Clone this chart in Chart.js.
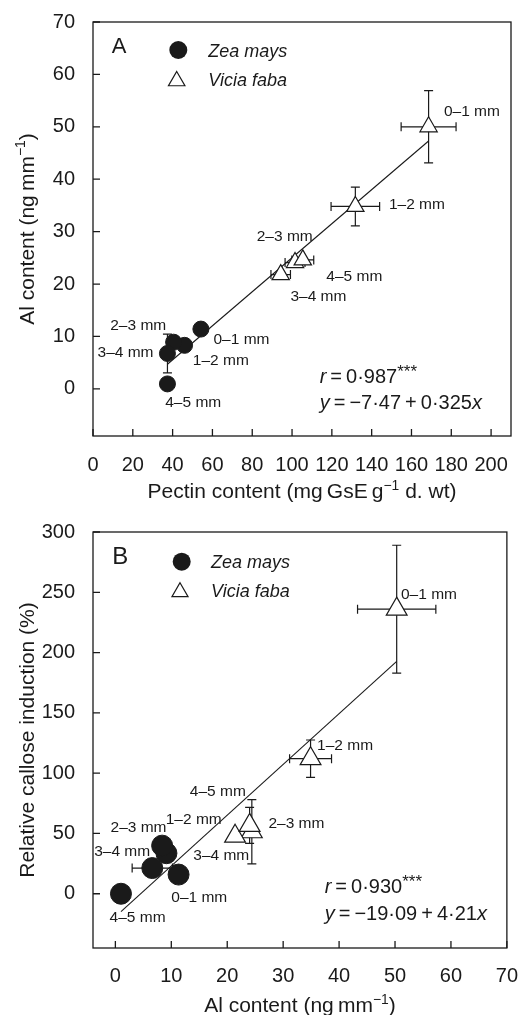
<!DOCTYPE html>
<html><head><meta charset="utf-8">
<script src="https://cdn.jsdelivr.net/npm/chart.js@4.4.1/dist/chart.umd.min.js"></script>
<style>
html,body{margin:0;padding:0;background:#fff;}
#wrap{position:relative;width:526px;height:1015px;overflow:hidden;background:#fff;}
canvas{position:absolute;left:0;}
#cA{top:0;} #cB{top:510px;}
</style></head><body>
<div id="wrap"><canvas id="cA" width="526" height="510"></canvas><canvas id="cB" width="526" height="505"></canvas></div>
<script>
// ---------------- DATA ----------------
const zoneLabels = ['0–1 mm', '1–2 mm', '2–3 mm', '3–4 mm', '4–5 mm'];
const seriesNames = ['Zea mays', 'Vicia faba'];

// Panel A : pectin content (x) vs Al content (y)
const zeaPectinA      = [54.2, 46.0, 40.5, 37.4, 37.4];
const zeaAlA          = [11.4, 8.3, 8.9, 6.75, 0.94];
const zeaPectinErrA   = [0, 0, 0, 0, 0];
const zeaAlErrA       = [0, 0, 0, 3.7, 0];
const viciaPectinA    = [168.6, 131.8, 101.5, 94.3, 105.4];
const viciaAlA        = [50.0, 34.8, 24.1, 21.8, 24.6];
const viciaPectinErrA = [13.8, 12.2, 5.0, 4.9, 5.5];
const viciaAlErrA     = [6.9, 3.7, 0, 0, 0];
const fitXA = [37.4, 168.6];
const fitYA = [4.69, 47.3];
const xTicksA = [0, 20, 40, 60, 80, 100, 120, 140, 160, 180, 200];
const yTicksA = [0, 10, 20, 30, 40, 50, 60, 70];
const statsA = ['0·987', '−7·47', '0·325'];

// Panel B : Al content (x) vs relative callose induction (y)
const zeaAlB           = [11.3, 9.13, 8.36, 6.6, 1.0];
const zeaCalloseB      = [15.9, 33.6, 39.9, 21.3, 0];
const zeaAlErrB        = [0, 0, 0, 3.6, 0];
const zeaCalloseErrB   = [0, 0, 0, 0, 0];
const viciaAlB         = [50.3, 34.9, 24.4, 21.4, 24.0];
const viciaCalloseB    = [236, 112, 51.4, 47.7, 56.7];
const viciaAlErrB      = [7.0, 3.75, 0, 0, 0];
const viciaCalloseErrB = [53, 15.5, 26.6, 0, 15];
const fitXB = [1.0, 50.3];
const fitYB = [-14.9, 192.7];
const xTicksB = [0, 10, 20, 30, 40, 50, 60, 70];
const yTicksB = [0, 50, 100, 150, 200, 250, 300];
const statsB = ['0·930', '−19·09', '4·21'];

// ---------------- STYLE / LAYOUT ----------------
const FAM = '"Liberation Sans", Arial, Helvetica, sans-serif';
const INK = '#1a1a1a';

function pts(xs, ys) { return xs.map((x, i) => ({ x: x, y: ys[i] })); }

function drawRich(ctx, segs, x, y, size, align) {
  const fontOf = s => (s.i ? 'italic ' : '') + (s.sup ? size * (s.scale || 0.66) : size) + 'px ' + FAM;
  let total = 0;
  const ws = segs.map(s => { ctx.font = fontOf(s); const w = ctx.measureText(s.t).width; total += w; return w; });
  let cx = align === 'center' ? x - total / 2 : (align === 'right' ? x - total : x);
  ctx.textAlign = 'left'; ctx.textBaseline = 'alphabetic';
  segs.forEach((s, k) => { ctx.font = fontOf(s); ctx.fillText(s.t, cx, s.sup ? y - size * (s.raise || 0.4) : y); cx += ws[k]; });
}

function triPath(ctx, x, y, r) {
  ctx.beginPath();
  for (let k = 0; k < 3; k++) {
    const a = k * 2 * Math.PI / 3;
    const px = x + Math.sin(a) * r, py = y - Math.cos(a) * r;
    if (k === 0) ctx.moveTo(px, py); else ctx.lineTo(px, py);
  }
  ctx.closePath();
}

function makePanel(id, P) {
  const canvas = document.getElementById(id);
  const W = canvas.width, H = canvas.height;
  const decor = {
    id: 'decor' + id,
    beforeDatasetsDraw(chart) {
      const ctx = chart.ctx, xs = chart.scales.x, ys = chart.scales.y;
      ctx.save();
      ctx.strokeStyle = INK; ctx.lineWidth = 1.2;
      const cap = 4.5;
      P.errors.forEach(e => {
        e.x.forEach((xv, i) => {
          const px = xs.getPixelForValue(xv), py = ys.getPixelForValue(e.y[i]);
          if (e.ex[i] > 0) {
            const a = xs.getPixelForValue(xv - e.ex[i]), b = xs.getPixelForValue(xv + e.ex[i]);
            ctx.beginPath(); ctx.moveTo(a, py); ctx.lineTo(b, py);
            ctx.moveTo(a, py - cap); ctx.lineTo(a, py + cap);
            ctx.moveTo(b, py - cap); ctx.lineTo(b, py + cap); ctx.stroke();
          }
          if (e.ey[i] > 0) {
            const a = ys.getPixelForValue(e.y[i] - e.ey[i]), b = ys.getPixelForValue(e.y[i] + e.ey[i]);
            ctx.beginPath(); ctx.moveTo(px, a); ctx.lineTo(px, b);
            ctx.moveTo(px - cap, a); ctx.lineTo(px + cap, a);
            ctx.moveTo(px - cap, b); ctx.lineTo(px + cap, b); ctx.stroke();
          }
        });
      });
      ctx.restore();
    },
    afterDatasetsDraw(chart) {
      const ctx = chart.ctx, xs = chart.scales.x, ys = chart.scales.y;
      ctx.save();
      ctx.fillStyle = INK;
      ctx.font = P.labelSize + 'px ' + FAM;
      ctx.textAlign = 'left'; ctx.textBaseline = 'middle';
      P.labels.forEach(L => {
        L.x.forEach((xv, i) => {
          const px = xs.getPixelForValue(xv), py = ys.getPixelForValue(L.y[i]);
          ctx.fillText(zoneLabels[i], px + L.off[i][0], py + L.off[i][1]);
        });
      });
      ctx.restore();
    },
    afterDraw(chart) {
      const ctx = chart.ctx, xs = chart.scales.x, ys = chart.scales.y, ca = chart.chartArea;
      ctx.save();
      ctx.strokeStyle = INK; ctx.lineWidth = 1.3;
      ctx.strokeRect(ca.left, ca.top, ca.right - ca.left, ca.bottom - ca.top);
      ctx.beginPath();
      const tl = 7;
      xs.ticks.forEach(t => { const p = xs.getPixelForValue(t.value); ctx.moveTo(p, ca.bottom); ctx.lineTo(p, ca.bottom - tl); });
      ys.ticks.forEach(t => { const p = ys.getPixelForValue(t.value); ctx.moveTo(ca.left, p); ctx.lineTo(ca.left + tl, p); });
      ctx.stroke();
      ctx.fillStyle = INK;
      // panel letter
      ctx.font = P.letterSize + 'px ' + FAM; ctx.textAlign = 'left'; ctx.textBaseline = 'alphabetic';
      ctx.fillText(P.letter, P.letterPos[0], P.letterPos[1]);
      // legend
      const lg = P.legend;
      ctx.beginPath(); ctx.arc(lg.circ[0], lg.circ[1], lg.circR, 0, Math.PI * 2); ctx.fillStyle = INK; ctx.fill();
      triPath(ctx, lg.tri[0], lg.tri[1], lg.triR); ctx.fillStyle = '#fff'; ctx.fill(); ctx.lineWidth = 1.2; ctx.stroke();
      ctx.fillStyle = INK;
      ctx.font = 'italic ' + lg.size + 'px ' + FAM;
      ctx.fillText(seriesNames[0], lg.textX, lg.base[0]);
      ctx.fillText(seriesNames[1], lg.textX, lg.base[1]);
      // stats
      const th = '\u2009';
      drawRich(ctx, [{ t: 'r', i: 1 }, { t: th + '=' + th + P.stats[0] }, { t: '***', sup: 1, scale: 0.85, raise: 0.3 }], P.statsPos[0], P.statsPos[1], P.statsSize, 'left');
      drawRich(ctx, [{ t: 'y', i: 1 }, { t: th + '=' + th + P.stats[1] + th + '+' + th + P.stats[2] }, { t: 'x', i: 1 }], P.statsPos[0], P.statsPos[2], P.statsSize, 'left');
      // axis titles
      drawRich(ctx, P.xTitle, (ca.left + ca.right) / 2 + P.xTitleDx, P.xTitleBase, P.titleSize, 'center');
      ctx.save();
      ctx.translate(P.yTitleBase, (ca.top + ca.bottom) / 2);
      ctx.rotate(-Math.PI / 2);
      drawRich(ctx, P.yTitle, 0, 0, P.titleSize, 'center');
      ctx.restore();
      ctx.restore();
    }
  };

  const tickFont = { family: FAM, size: P.tickSize };
  return new Chart(canvas, {
    type: 'scatter',
    data: {
      datasets: [
        { label: seriesNames[1], data: pts(P.vx, P.vy), pointStyle: 'triangle', pointRadius: P.triR, pointHoverRadius: P.triR,
          backgroundColor: '#fff', borderColor: INK, borderWidth: 1.2, order: 1 },
        { label: seriesNames[0], data: pts(P.zx, P.zy), pointStyle: 'circle', pointRadius: P.circR, pointHoverRadius: P.circR,
          backgroundColor: INK, borderColor: INK, borderWidth: 1, order: 2 },
        { type: 'line', label: 'fit', data: pts(P.fx, P.fy), showLine: true, pointRadius: 0, borderColor: INK,
          borderWidth: 1.1, fill: false, order: 3 }
      ]
    },
    options: {
      responsive: false, animation: false, devicePixelRatio: 1, events: [],
      layout: { padding: { left: 0, top: P.box.top, right: W - P.box.right, bottom: 0 } },
      plugins: { legend: { display: false }, tooltip: { enabled: false } },
      scales: {
        x: {
          type: 'linear', min: P.xMin, max: P.xMax,
          afterBuildTicks: s => { s.ticks = P.xTicks.map(v => ({ value: v })); },
          afterFit: s => { s.height = H - P.box.bottom; },
          grid: { display: false }, border: { display: false },
          ticks: { font: tickFont, color: INK, padding: P.xTickPad, maxRotation: 0, autoSkip: false, callback: v => String(v) }
        },
        y: {
          type: 'linear', min: P.yMin, max: P.yMax,
          afterBuildTicks: s => { s.ticks = P.yTicks.map(v => ({ value: v })); },
          afterFit: s => { s.width = P.box.left; },
          grid: { display: false }, border: { display: false },
          ticks: { font: tickFont, color: INK, padding: 10, autoSkip: false, callback: v => String(v) }
        }
      }
    },
    plugins: [decor]
  });
}

const sup = t => ({ t: t, sup: 1 });

makePanel('cA', {
  box: { left: 93, top: 16, right: 511, bottom: 436 },
  xMin: 0, xMax: 210, yMin: -9, yMax: 70, xTicks: xTicksA, yTicks: yTicksA,
  zx: zeaPectinA, zy: zeaAlA, vx: viciaPectinA, vy: viciaAlA, fx: fitXA, fy: fitYA,
  circR: 8, triR: 10,
  errors: [
    { x: zeaPectinA, y: zeaAlA, ex: zeaPectinErrA, ey: zeaAlErrA },
    { x: viciaPectinA, y: viciaAlA, ex: viciaPectinErrA, ey: viciaAlErrA }
  ],
  labelSize: 15.5,
  labels: [
    { x: zeaPectinA, y: zeaAlA, off: [[12.6, 10.4], [8.3, 15.5], [-63.4, -16.3], [-69.9, -1], [-2.2, 19]] },
    { x: viciaPectinA, y: viciaAlA, off: [[15.3, -15.2], [33.6, -2.2], [-38.3, -26], [9.7, 21.8], [23.5, 16.7]] }
  ],
  letter: 'A', letterSize: 22, letterPos: [111.7, 52.7],
  legend: { circ: [178.3, 50], circR: 9, tri: [176.7, 81], triR: 9.5, textX: 208.3, base: [56.7, 86], size: 18 },
  stats: statsA, statsPos: [319.7, 383, 408.5], statsSize: 20,
  tickSize: 20, xTickPad: 9, titleSize: 21,
  xTitle: [{ t: 'Pectin content (mg\u2009GsE\u2009g' }, sup('−1'), { t: ' d. wt)' }], xTitleDx: 0, xTitleBase: 498.3,
  yTitle: [{ t: 'Al content (ng\u2009mm' }, sup('−1'), { t: ')' }], yTitleBase: 33.5
});

makePanel('cB', {
  box: { left: 93, top: 17, right: 511, bottom: 438 },
  xMin: -4, xMax: 70, yMin: -45, yMax: 300, xTicks: xTicksB, yTicks: yTicksB,
  zx: zeaAlB, zy: zeaCalloseB, vx: viciaAlB, vy: viciaCalloseB, fx: fitXB, fy: fitYB,
  circR: 10.5, triR: 12,
  errors: [
    { x: zeaAlB, y: zeaCalloseB, ex: zeaAlErrB, ey: zeaCalloseErrB },
    { x: viciaAlB, y: viciaCalloseB, ex: viciaAlErrB, ey: viciaCalloseErrB }
  ],
  labelSize: 15.5,
  labels: [
    { x: zeaAlB, y: zeaCalloseB, off: [[-7.3, 22.7], [-0.7, -33.4], [-51.6, -18.3], [-58.1, -16], [-11.4, 24]] },
    { x: viciaAlB, y: viciaCalloseB, off: [[4.3, -14.8], [6.5, -13], [16.6, -7.7], [-41.8, 19.5], [-59.8, -33.5]] }
  ],
  letter: 'B', letterSize: 24, letterPos: [112.3, 54.3],
  legend: { circ: [181.7, 51.7], circR: 9, tri: [180, 82], triR: 9.3, textX: 211, base: [58.3, 87.3], size: 18 },
  stats: statsB, statsPos: [324.7, 383, 410], statsSize: 20,
  tickSize: 20, xTickPad: 8, titleSize: 21,
  xTitle: [{ t: 'Al content (ng\u2009mm' }, sup('−1'), { t: ')' }], xTitleDx: 0, xTitleBase: 502.3,
  yTitle: [{ t: 'Relative callose induction (%)' }], yTitleBase: 33.5
});
</script>
</body></html>
